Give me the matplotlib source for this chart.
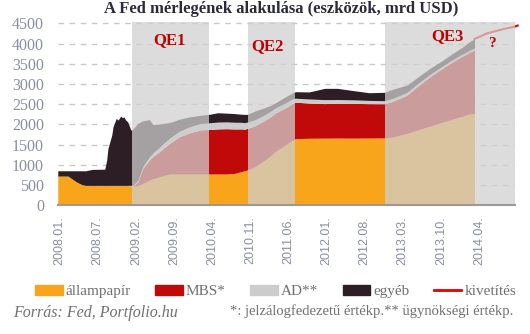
import matplotlib.pyplot as plt
import numpy as np
from matplotlib.patches import Patch
from matplotlib.lines import Line2D

# weeks since 2008.01.
weeks = [0, 8, 12, 15, 19, 22, 27, 37, 38.5, 39.5, 41, 42.5, 43.5, 45, 46, 47.5, 49.5, 51, 52, 53.5,
         55, 56, 57.5, 59, 63, 67, 72, 75, 80, 83, 88, 91, 96, 104, 112, 119, 126, 133, 139, 144,
         147, 149, 155, 163, 168, 171, 179, 185, 187, 198, 210, 220, 232, 245, 257, 263, 275, 283,
         293, 302, 311, 318, 324, 328]

allampapir = [725, 725, 640, 575, 515, 495, 495, 495, 495, 495, 495, 495, 495, 495, 495, 495, 495, 495, 495, 495,
              490, 490, 485, 478, 485, 544, 626, 660, 707, 735, 774, 776, 776, 776, 776, 776, 776, 776, 790, 831,
              856, 872, 955, 1120, 1240, 1326, 1490, 1615, 1650, 1660, 1662, 1665, 1663, 1665, 1668, 1685, 1780, 1860,
              1961, 2050, 2134, 2200, 2258, 2270]

mbs = [0, 0, 0, 0, 0, 0, 0, 0, 0, 0, 0, 0, 0, 0, 0, 0, 0, 0, 0, 0,
       0, 0, 0, 0, 100, 371, 494, 550, 619, 670, 759, 820, 923, 1021, 1088, 1100, 1115, 1120, 1100, 1060,
       1030, 1028, 1010, 980, 965, 950, 920, 905, 900, 870, 855, 860, 860, 850, 845, 880, 947, 1080,
       1219, 1320, 1417, 1480, 1525, 1570]

ad = [0, 0, 0, 0, 0, 0, 0, 0, 0, 0, 0, 0, 0, 0, 0, 0, 0, 0, 0, 0,
      5, 8, 10, 15, 30, 50, 75, 90, 110, 120, 130, 135, 140, 150, 160, 165, 168, 168, 165, 163,
      160, 158, 150, 140, 132, 128, 120, 115, 100, 100, 98, 92, 86, 80, 75, 72, 68, 64,
      60, 57, 55, 52, 50, 50]

egyeb = [131, 131, 216, 281, 341, 361, 395, 400, 625, 915, 1078, 1243, 1449, 1572, 1656, 1614, 1713, 1671, 1696, 1614,
         1572, 1488, 1367, 1387, 1413, 1128, 925, 700, 574, 500, 387, 346, 295, 243, 201, 209, 231, 216, 215, 201,
         204, 192, 215, 180, 140, 126, 150, 150, 160, 175, 278, 276, 231, 190, 207, 228, 180, 160,
         148, 141, 153, 170, 213, 222]

kivet_weeks = [328, 338, 351, 360, 362]
kivet = [4112, 4253, 4360, 4420, 4445]

qe_spans = [(58.8, 118.9, 'QE1'), (149.4, 186.6, 'QE2'), (257.5, 360, 'QE3')]

tick_labels = ['2008.01.', '2008.07.', '2009.02.', '2009.09.', '2010.04.', '2010.11.',
               '2011.06.', '2012.01.', '2012.08.', '2013.03.', '2013.10.', '2014.04.']

c_all = '#f9a51b'
c_mbs = '#c00a0a'
c_ad = '#cccccc'
c_egy = '#2d1e26'
c_txt = '#8a8fa0'

serif = 'Liberation Serif'

fig = plt.figure(figsize=(5.3, 3.34), dpi=100)
ax = fig.add_axes([0.109, 0.385, 0.863, 0.55])

w = np.array(weeks)
b1 = np.array(allampapir)
b2 = b1 + np.array(mbs)
b3 = b2 + np.array(ad)
b4 = b3 + np.array(egyeb)
ax.fill_between(w, 0, b1, color=c_all, lw=0, zorder=2)
ax.fill_between(w, b1, b2, color=c_mbs, lw=0, zorder=2)
ax.fill_between(w, b2, b3, color=c_ad, lw=0, zorder=2)
ax.fill_between(w, b3, b4, color=c_egy, lw=0, zorder=2)

ax.plot(kivet_weeks, kivet, color='#e60000', lw=1.5, zorder=2.5, clip_on=False)

for a, b, lab in qe_spans:
    ax.axvspan(a, b, color='#d0d0d0', alpha=0.74, lw=0, zorder=3)

ax.text(88, 4080, 'QE1', color='#c00000', fontsize=12, fontweight='bold', family=serif, ha='center', va='center', zorder=5)
ax.text(165, 3940, 'QE2', color='#c00000', fontsize=12, fontweight='bold', family=serif, ha='center', va='center', zorder=5)
ax.text(307, 4180, 'QE3', color='#c00000', fontsize=12, fontweight='bold', family=serif, ha='center', va='center', zorder=5)
ax.text(342, 3990, '?', color='#c00000', fontsize=11, fontweight='bold', family=serif, ha='center', va='center', zorder=5)

ax.set_xlim(0, 360)
ax.set_ylim(0, 4540)
ax.set_yticks(range(0, 4501, 500))
ax.set_yticklabels([str(v) for v in range(0, 4501, 500)], family=serif, fontsize=11.5, color=c_txt)
ax.set_xticks([30 * i + 1.5 for i in range(len(tick_labels))])
ax.set_xticklabels(tick_labels, rotation=90, family='Liberation Sans', fontsize=9, color=c_txt)
ax.tick_params(length=0, pad=10)
ax.tick_params(axis='x', pad=8)
ax.grid(axis='y', color='#c8c8c8', ls=(0, (4, 4)), lw=1, zorder=0)
for s in ['top', 'right', 'left']:
    ax.spines[s].set_visible(False)
ax.spines['bottom'].set_color('#999999')
ax.spines['bottom'].set_linewidth(1.5)
ax.spines['bottom'].set_zorder(4)

fig.text(0.53, 0.972, 'A Fed mérlegének alakulása (eszközök, mrd USD)', ha='center', va='center',
         family=serif, fontweight='bold', fontsize=12, color='#2a2a3a')

handles = [Patch(color=c_all), Patch(color=c_mbs), Patch(color=c_ad), Patch(color=c_egy),
           Line2D([], [], color='#e60000', lw=2)]
labels = ['állampapír', 'MBS*', 'AD**', 'egyéb', 'kivetítés']
fig.legend(handles, labels, loc='center', bbox_to_anchor=(0.52, 0.128), ncol=5, frameon=False,
           prop={'family': serif, 'size': 11}, labelcolor='#707070', handlelength=1.8, handleheight=0.65,
           handletextpad=0.2, columnspacing=1.6, borderaxespad=0)

fig.text(0.025, 0.063, 'Forrás: Fed, Portfolio.hu', family=serif, style='italic', fontsize=11.5,
         color='#707070', ha='left', va='center')
fig.text(0.968, 0.068, '*: jelzálogfedezetű értékp.** ügynökségi értékp.', family=serif, fontsize=10.5,
         color='#707070', ha='right', va='center')

fig.savefig('out.png', dpi=100)
